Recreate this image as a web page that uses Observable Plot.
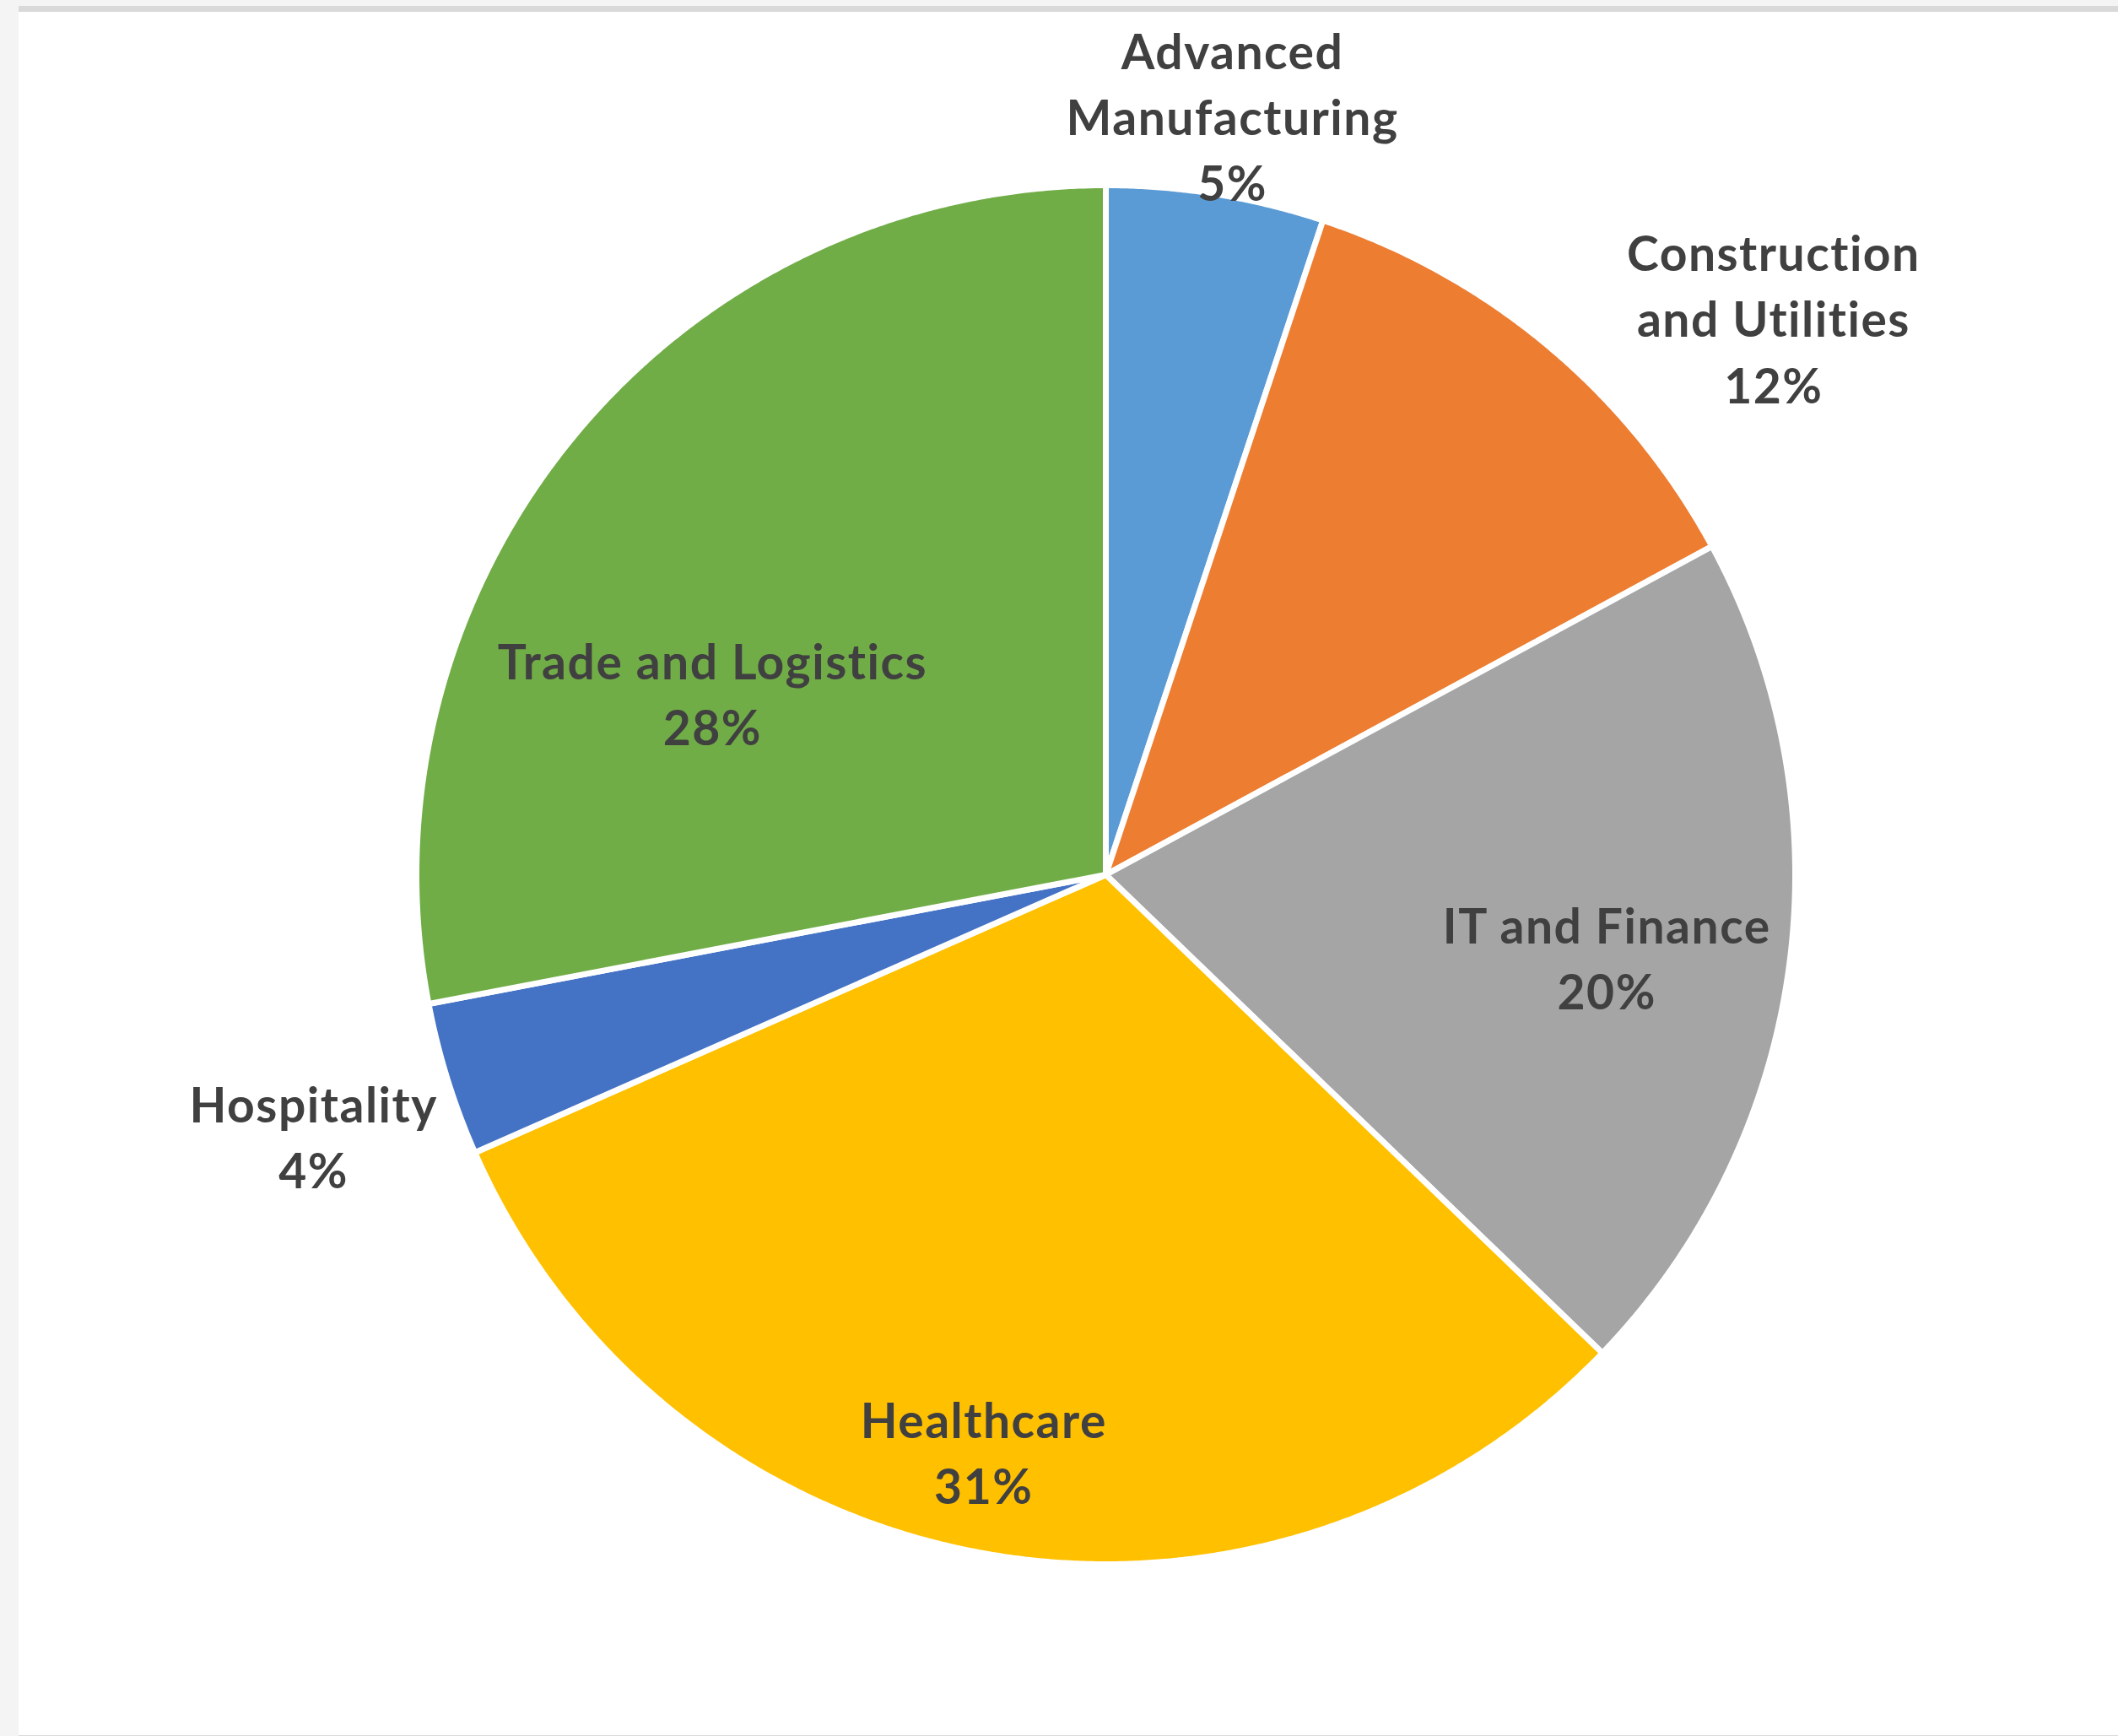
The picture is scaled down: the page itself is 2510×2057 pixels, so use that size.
<!DOCTYPE html>
<html>
<head>
<meta charset="utf-8">
<script src="https://cdn.jsdelivr.net/npm/d3@7"></script>
<script src="https://cdn.jsdelivr.net/npm/@observablehq/plot@0.6"></script>
<style>
  html, body { margin: 0; padding: 0; }
  body { width: 2510px; height: 2057px; background: #f4f4f4; overflow: hidden; position: relative; }
  #panel { position: absolute; left: 22px; top: 7px; width: 2488px; height: 2042px;
           border-top: 7px solid #d9d9d9; border-bottom: 1px solid #d9d9d9; background: #ffffff; }
  #panel svg { display: block; }
</style>
</head>
<body>
<div id="panel"></div>
<script>
// ---- data (clockwise from 12 o'clock) ----
const categories = ["Advanced Manufacturing", "Construction and Utilities", "IT and Finance", "Healthcare", "Hospitality", "Trade and Logistics"];
const labelNames = ["Advanced\nManufacturing", "Construction\nand Utilities", "IT and Finance", "Healthcare", "Hospitality", "Trade and Logistics"];
const shares = [5.1, 12.0, 20.1, 31.2, 3.6, 28.0];
const colors = ["#5B9BD5", "#ED7D31", "#A5A5A5", "#FFC000", "#4472C4", "#70AD47"];

// ---- label placement (Excel "best fit": polar position, radius in units of pie radius) ----
const labelRadius = [1.113, 1.259, 0.737, 0.859, 1.211, 0.627];
const labelAngle  = [9.5, 50.3, 99.6, 191.9, 251.6, 294.5];

// ---- layout ----
const W = 2488, H = 2042;
const cx = 1288, cy = 1022, Rpx = 817;   // pie centre and radius in pixels
const xDomain = [-cx / Rpx, (W - cx) / Rpx];
const yDomain = [-(H - cy) / Rpx, cy / Rpx];

const total = d3.sum(shares);
const pts = [];
let acc = 0;
categories.forEach((c, i) => {
  const a0 = acc / total * 2 * Math.PI;
  acc += shares[i];
  const a1 = acc / total * 2 * Math.PI;
  const n = Math.max(2, Math.ceil((a1 - a0) / (Math.PI / 720)));
  pts.push({category: c, x: 0, y: 0});
  for (let k = 0; k <= n; k++) {
    const a = a0 + (a1 - a0) * k / n;
    pts.push({category: c, x: Math.sin(a), y: Math.cos(a)});
  }
  pts.push({category: c, x: 0, y: 0});
});

const labels = categories.map((c, i) => {
  const a = labelAngle[i] * Math.PI / 180;
  return {
    category: c,
    x: labelRadius[i] * Math.sin(a),
    y: labelRadius[i] * Math.cos(a),
    text: labelNames[i] + "\n" + Math.round(shares[i]) + "%"
  };
});

const chart = Plot.plot({
  width: W,
  height: H,
  margin: 0,
  x: {axis: null, domain: xDomain},
  y: {axis: null, domain: yDomain},
  color: {domain: categories, range: colors},
  style: {background: "#ffffff", overflow: "visible", letterSpacing: "1.5px"},
  marks: [
    Plot.line(pts, {x: "x", y: "y", z: "category", fill: "category", stroke: "#ffffff",
                    strokeWidth: 7, strokeLinejoin: "round", curve: "linear"}),
    Plot.text(labels, {x: "x", y: "y", text: "text", fill: "#404040", fontSize: 57,
                       fontWeight: "bold", fontFamily: "Lato", lineHeight: 1.37,
                       textAnchor: "middle", lineAnchor: "middle", dy: -5})
  ]
});
document.getElementById("panel").appendChild(chart);
</script>
</body>
</html>
